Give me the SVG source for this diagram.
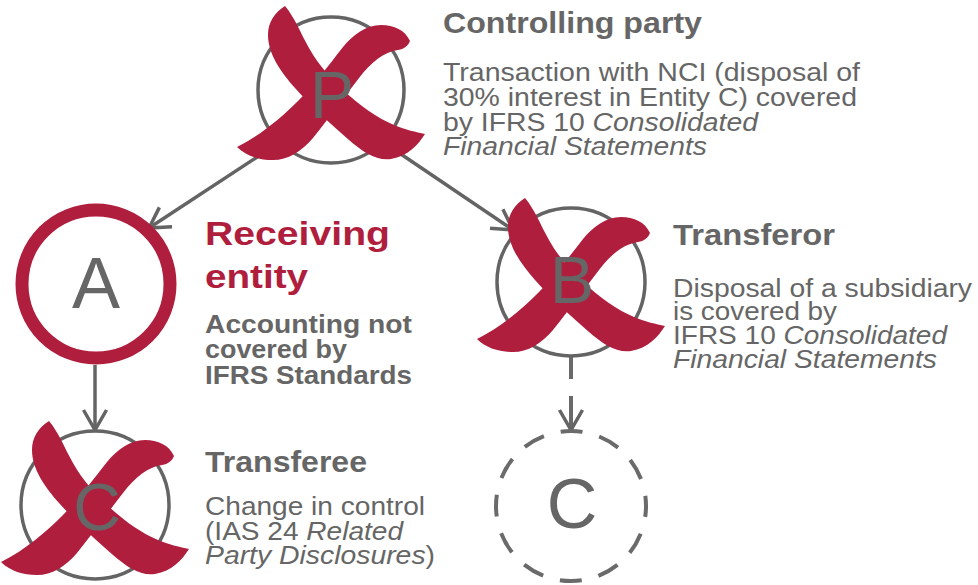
<svg xmlns="http://www.w3.org/2000/svg" xmlns:xlink="http://www.w3.org/1999/xlink" width="978" height="585" viewBox="0 0 978 585">
  <style>
    .ring { fill: #ffffff; stroke: #646464; stroke-width: 3.5; }
    .ring-red { fill: #ffffff; stroke: #b01e3e; stroke-width: 13; }
    .ring-dash { fill: #ffffff; stroke: #6a6a6a; stroke-width: 4; stroke-dasharray: 22 17.27; stroke-dashoffset: 11; }
    .letter { font-family: "Liberation Sans", Arial, sans-serif; fill: #666666; text-anchor: middle; }
    .title { font-family: "Liberation Sans", Arial, sans-serif; font-weight: bold; font-size: 30px; fill: #666666; }
    .title-red { font-family: "Liberation Sans", Arial, sans-serif; font-weight: bold; font-size: 34px; fill: #b01e3e; }
    .body { font-family: "Liberation Sans", Arial, sans-serif; font-size: 25px; fill: #666666; }
    .body-bold { font-family: "Liberation Sans", Arial, sans-serif; font-weight: bold; font-size: 25px; fill: #666666; }
    .it { font-style: italic; }
    .link { fill: none; stroke: #646464; stroke-width: 3.5; marker-end: url(#chevron); }
    .link-dash { fill: none; stroke: #6a6a6a; stroke-width: 4; marker-end: url(#chevron); }
  </style>
  <defs>
    <marker id="chevron" markerUnits="userSpaceOnUse" viewBox="-24 -15 28 30" refX="0" refY="0" markerWidth="28" markerHeight="30" orient="auto">
      <path d="M -20,-11.5 L 0,0 L -20,11.5" fill="none" stroke="#646464" stroke-width="3.5" stroke-linejoin="miter"/>
    </marker>
    <!-- brush-stroke cross drawn over entities that are out of scope -->
    <g id="cross" fill="#b01e3e">
      <path d="M -46,-84 C -36,-72 -31,-58 -22,-42 C -12,-24 0,-12 12,0 C 28,15 46,28 63,35 C 75,40 85,42 94,44 C 87,55 77,66 60,69 C 45,71 32,62 18,50 C 2,36 -18,18 -36,-2 C -50,-18 -63,-36 -63,-55 C -63,-68 -56,-78 -46,-84 Z"/>
      <path d="M 79,-49 C 74,-60 63,-65 50,-65 C 35,-65 22,-55 12,-43 C -2,-25 -18,-4 -32,10 C -50,28 -70,45 -94,57 C -85,66 -72,70 -58,70 C -43,70 -30,62 -18,48 C -2,28 14,6 28,-12 C 40,-28 53,-38 67,-40 C 73,-41 77,-44 79,-49 Z"/>
    </g>
  </defs>

  <rect width="978" height="585" fill="#ffffff"/>

  <!-- connectors -->
  <g id="connectors">
    <path class="link" d="M 280,142 L 149,228"/>
    <path class="link" d="M 383,142 L 513,230"/>
    <path class="link" d="M 95,365 L 95,430"/>
    <path class="link-dash" d="M 571,357 V 379 M 571,396 V 430"/>
  </g>

  <!-- P: controlling party -->
  <g id="node-p">
    <circle class="ring" cx="331" cy="90" r="73"/>
    <use xlink:href="#cross" x="331" y="90"/>
    <text class="letter" x="332" y="118" font-size="66">P</text>
    <text class="title" x="443" y="33" textLength="259" lengthAdjust="spacingAndGlyphs">Controlling party</text>
    <text class="body" x="443" y="81" textLength="417" lengthAdjust="spacingAndGlyphs">Transaction with NCI (disposal of</text>
    <text class="body" x="443" y="106" textLength="414" lengthAdjust="spacingAndGlyphs">30% interest in Entity C) covered</text>
    <text class="body" x="443" y="131" textLength="315" lengthAdjust="spacingAndGlyphs">by IFRS 10 <tspan class="it">Consolidated</tspan></text>
    <text class="body it" x="443" y="155" textLength="264" lengthAdjust="spacingAndGlyphs">Financial Statements</text>
  </g>

  <!-- A: receiving entity -->
  <g id="node-a">
    <circle class="ring-red" cx="96" cy="284" r="74"/>
    <text class="letter" x="96" y="308" font-size="72">A</text>
    <text class="title-red" x="205" y="245" textLength="185" lengthAdjust="spacingAndGlyphs">Receiving</text>
    <text class="title-red" x="205" y="288" textLength="103" lengthAdjust="spacingAndGlyphs">entity</text>
    <text class="body-bold" x="205" y="333" textLength="207" lengthAdjust="spacingAndGlyphs">Accounting not</text>
    <text class="body-bold" x="205" y="358" textLength="142" lengthAdjust="spacingAndGlyphs">covered by</text>
    <text class="body-bold" x="205" y="384" textLength="207" lengthAdjust="spacingAndGlyphs">IFRS Standards</text>
  </g>

  <!-- B: transferor -->
  <g id="node-b">
    <circle class="ring" cx="571" cy="282" r="74"/>
    <use xlink:href="#cross" x="571" y="282"/>
    <text class="letter" x="572" y="303" font-size="66">B</text>
    <text class="title" x="673" y="245" textLength="162" lengthAdjust="spacingAndGlyphs">Transferor</text>
    <text class="body" x="673" y="297" textLength="299" lengthAdjust="spacingAndGlyphs">Disposal of a subsidiary</text>
    <text class="body" x="673" y="320" textLength="164" lengthAdjust="spacingAndGlyphs">is covered by</text>
    <text class="body" x="673" y="344" textLength="274" lengthAdjust="spacingAndGlyphs">IFRS 10 <tspan class="it">Consolidated</tspan></text>
    <text class="body it" x="673" y="368" textLength="264" lengthAdjust="spacingAndGlyphs">Financial Statements</text>
  </g>

  <!-- C under A: transferee -->
  <g id="node-c-transferee">
    <circle class="ring" cx="95" cy="505" r="74"/>
    <use xlink:href="#cross" x="95" y="505"/>
    <text class="letter" x="97" y="530" font-size="66">C</text>
    <text class="title" x="205" y="472" textLength="162" lengthAdjust="spacingAndGlyphs">Transferee</text>
    <text class="body" x="205" y="515" textLength="220" lengthAdjust="spacingAndGlyphs">Change in control</text>
    <text class="body" x="205" y="540" textLength="198" lengthAdjust="spacingAndGlyphs">(IAS 24 <tspan class="it">Related</tspan></text>
    <text class="body" x="205" y="564" textLength="230" lengthAdjust="spacingAndGlyphs"><tspan class="it">Party Disclosures</tspan>)</text>
  </g>

  <!-- C under B: former subsidiary -->
  <g id="node-c-former">
    <circle class="ring-dash" cx="571" cy="506" r="75"/>
    <text class="letter" x="572" y="528" font-size="70">C</text>
  </g>
</svg>
